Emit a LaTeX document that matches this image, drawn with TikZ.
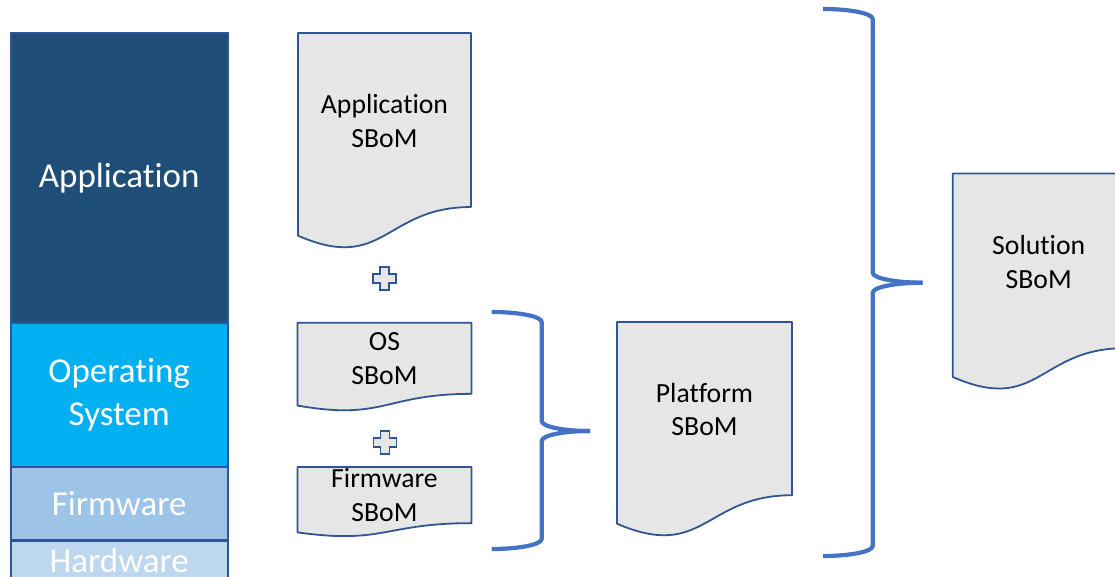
\documentclass[tikz,border=0pt]{standalone}
\usepackage{fontspec}
\setmainfont{Carlito}[Ligatures=NoCommon]

\definecolor{appblue}{HTML}{1F4E79}
\definecolor{osblue}{HTML}{00B0F0}
\definecolor{fwblue}{HTML}{9DC3E6}
\definecolor{hwblue}{HTML}{BDD7EE}
\definecolor{edgeblue}{HTML}{2F5597}
\definecolor{bracecol}{HTML}{4472C4}
\definecolor{paper}{HTML}{E7E6E6}

\tikzset{
  layer/.style={draw=edgeblue, line width=1.8pt, minimum width=217pt, inner sep=0pt,
    text=white, font=\fontsize{35}{42.7}\selectfont, align=center},
  layertext/.style={text=white, font=\fontsize{35}{42.7}\selectfont, inner sep=0pt},
  docshape/.style={draw=edgeblue, line width=1.8pt, fill=paper, line join=round},
  doctext/.style={font=\fontsize{27.7}{33.8}\selectfont, align=center, inner sep=0pt},
  bracestroke/.style={draw=bracecol, line width=4.2pt, line join=round},
  plusstyle/.style={draw=edgeblue, line width=1.6pt, fill=paper, line join=miter},
  plus sign/.pic={
    \path[plusstyle] (-4.6,-11.5) -- (4.6,-11.5) -- (4.6,-4.6) -- (11.5,-4.6)
      -- (11.5,4.6) -- (4.6,4.6) -- (4.6,11.5) -- (-4.6,11.5) -- (-4.6,4.6)
      -- (-11.5,4.6) -- (-11.5,-4.6) -- (-4.6,-4.6) -- cycle;
  }
}

% document shape with a wavy bottom edge:
% #1 name, #2 left, #3 top, #4 width, #5 height, #6 label
\newcommand\SBoMDoc[6]{%
  \path[docshape] (#2,#3) -- ({#2+#4},#3) -- ({#2+#4},{#3+0.802*#5})
    .. controls ({#2+#4/2},{#3+0.802*#5}) and ({#2+#4/2},{#3+1.1075*#5})
    .. (#2,{#3+0.934*#5}) -- cycle;
  \node[doctext] (#1) at ({#2+#4/2},{#3+0.405*#5}) {#6};
}

\begin{document}
\begin{tikzpicture}[x=1pt, y=-1pt]
\clip (0,0) rectangle (1115,577);

% layered stack
\node[layer, fill=appblue, minimum height=289.7pt] (app) at (119.2,177.85) {Application};
\node[layer, fill=osblue, minimum height=144pt] (os) at (119.2,394.7) {Operating\\System};
\node[layer, fill=fwblue, minimum height=73.3pt] (fw) at (119.2,503.35) {Firmware};
\node[layer, fill=hwblue, minimum height=50pt, anchor=north] (hw) at (119.2,540) {};
\node[layertext, anchor=base] (hwlabel) at (119.2,572) {Hardware};

% component SBoMs
\SBoMDoc{appdoc}{298}{33}{173}{217}{Application\\SBoM}
\SBoMDoc{osdoc}{297.5}{322.7}{174}{88.7}{OS\\SBoM}
\SBoMDoc{fwdoc}{297.5}{467}{174}{70}{Firmware\\SBoM}
\pic at (384.5,278.5) {plus sign};
\pic at (385,442.5) {plus sign};

% platform brace and SBoM
\coordinate (pbtop) at (491.7,312);
\coordinate (pbtip) at (590,431);
\coordinate (pbbot) at (491.7,549);
\path[bracestroke] (pbtop) .. controls (519.3,312) and (541.7,316.5) .. (541.7,322)
  -- (541.7,421) .. controls (541.7,426.5) and (562.4,431) .. (pbtip);
\path[bracestroke] (pbtip) .. controls (562.4,431) and (541.7,435.5) .. (541.7,441)
  -- (541.7,539) .. controls (541.7,544.5) and (519.3,549) .. (pbbot);
\SBoMDoc{platdoc}{617}{322}{175}{216}{Platform\\SBoM}

% solution brace and SBoM
\coordinate (sbtop) at (823,9);
\coordinate (sbtip) at (922.7,282.7);
\coordinate (sbbot) at (823,556);
\path[bracestroke] (sbtop) .. controls (850.6,9) and (872.7,13.5) .. (872.7,19)
  -- (872.7,272.7) .. controls (872.7,278.2) and (895.1,282.7) .. (sbtip);
\path[bracestroke] (sbtip) .. controls (895.1,282.7) and (872.7,287.2) .. (872.7,292.7)
  -- (872.7,546) .. controls (872.7,551.5) and (850.6,556) .. (sbbot);
\SBoMDoc{soldoc}{952.7}{173.5}{172}{217.8}{Solution\\SBoM}
\end{tikzpicture}
\end{document}
